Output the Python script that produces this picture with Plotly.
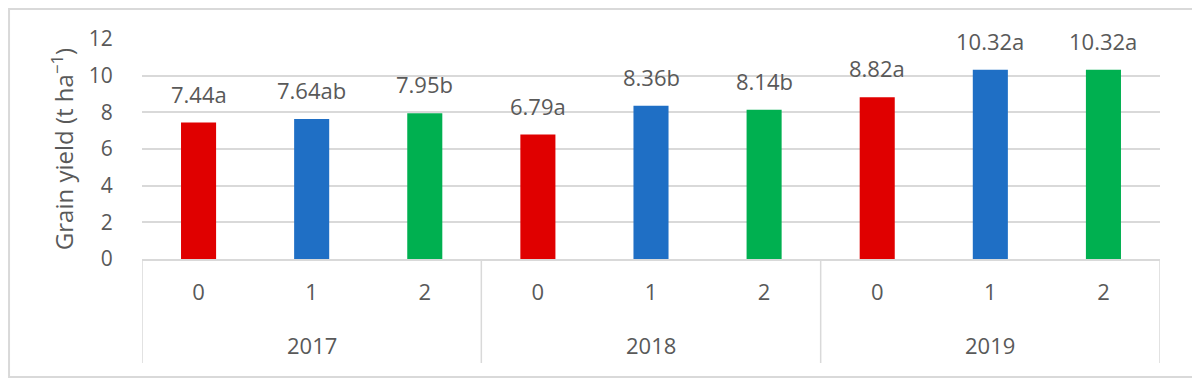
import plotly.graph_objects as go

years = ["2017", "2018", "2019"]
treatments = ["0", "1", "2", "0", "1", "2", "0", "1", "2"]
yields = [7.44, 7.64, 7.95, 6.79, 8.36, 8.14, 8.82, 10.32, 10.32]
letters = ["a", "ab", "b", "a", "b", "b", "a", "a", "a"]
colors = ["#E00000", "#1F6FC5", "#00B050"] * 3
y_ticks = [0, 2, 4, 6, 8, 10, 12]

pos = list(range(len(yields)))
labels = [f"{v:.2f}{l}" for v, l in zip(yields, letters)]
FONT = "Open Sans"
GREY = "#595959"
LINE = "#D9D9D9"

fig = go.Figure()
fig.add_trace(go.Bar(
    x=pos, y=yields,
    marker=dict(color=colors, line=dict(width=0)),
    width=0.31, showlegend=False, hoverinfo="skip",
))

annotations = []
for p, v, t in zip(pos, yields, labels):
    annotations.append(dict(x=p, y=v, xref="x", yref="y", text=t, showarrow=False,
                            yanchor="middle", yshift=29,
                            font=dict(family=FONT, size=22, color=GREY)))
for g, yr in enumerate(years):
    annotations.append(dict(x=3 * g + 1, y=-0.391, xref="x", yref="paper", text=yr,
                            showarrow=False, yanchor="middle",
                            font=dict(family=FONT, size=22, color=GREY)))

shapes = [dict(type="rect", xref="paper", yref="paper",
               x0=-0.1306, x1=1.0324, y0=-0.536, y1=1.1364,
               line=dict(color=LINE, width=2), layer="above")]
for b in [-0.5, 2.5, 5.5, 8.5]:
    shapes.append(dict(type="line", xref="x", yref="paper", x0=b, x1=b,
                       y0=0, y1=-0.4727, line=dict(color=LINE, width=1.5)))

fig.update_layout(
    width=1192, height=376,
    margin=dict(l=134, r=40, t=31, b=125),
    paper_bgcolor="white", plot_bgcolor="white",
    font=dict(family=FONT, size=20, color=GREY),
    xaxis=dict(
        range=[-0.5, 8.5], tickvals=pos, ticktext=treatments,
        showline=True, linecolor=LINE, linewidth=1.5,
        showgrid=False, zeroline=False,
        ticks="outside", ticklen=13, tickcolor="rgba(0,0,0,0)",
        tickfont=dict(family=FONT, size=22, color=GREY),
    ),
    yaxis=dict(
        range=[0, 12], tickvals=y_ticks,
        showgrid=True, gridcolor=LINE, gridwidth=1.5,
        zeroline=False, showline=False,
        ticks="outside", ticklen=24, tickcolor="rgba(0,0,0,0)",
        tickfont=dict(family=FONT, size=21, color=GREY),
        title=dict(text="Grain yield (t ha<sup>−1</sup>)", standoff=8,
                   font=dict(family=FONT, size=24, color=GREY)),
    ),
    annotations=annotations,
    shapes=shapes,
)

fig.write_html("out.html")
